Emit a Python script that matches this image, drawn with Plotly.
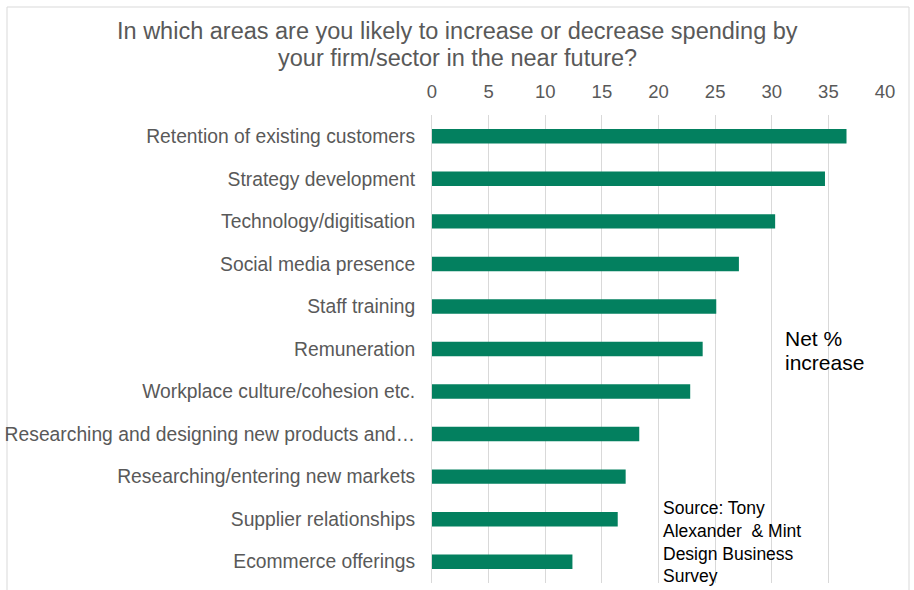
import plotly.graph_objects as go

# Survey areas, top to bottom
categories = [
    "Retention of existing customers",
    "Strategy development",
    "Technology/digitisation",
    "Social media presence",
    "Staff training",
    "Remuneration",
    "Workplace culture/cohesion etc.",
    "Researching and designing new products and…",
    "Researching/entering new markets",
    "Supplier relationships",
    "Ecommerce offerings",
]
# Net % of respondents expecting to increase spending
net_increase = [36.6, 34.7, 30.3, 27.1, 25.1, 23.9, 22.8, 18.3, 17.1, 16.4, 12.4]

x_ticks = [0, 5, 10, 15, 20, 25, 30, 35, 40]

title_lines = [
    "In which areas are you likely to increase or decrease spending by",
    "your firm/sector in the near future?",
]
unit_lines = ["Net %", "increase"]

GREEN = "#03805F"
GREY_TXT = "#595959"
FONT = "Liberation Sans, Arial, sans-serif"

# plot-area geometry in pixels (used to place paper-referenced items)
L, R, T, B = 432, 885, 115, 583
PW, PH = R - L, B - T


def px_x(x):
    return (x - L) / PW


def px_y(y):
    return (B - y) / PH


fig = go.Figure(
    go.Bar(
        y=categories,
        x=net_increase,
        orientation="h",
        marker=dict(color=GREEN, line=dict(width=0)),
        width=0.34,
        hoverinfo="x+y",
    )
)

annotations = []
# two-line title, each line placed on its own baseline row
for line, yc in zip(title_lines, [31, 58]):
    annotations.append(dict(
        text=line, xref="paper", yref="paper",
        x=px_x(457), y=px_y(yc), xanchor="center", yanchor="middle",
        showarrow=False, font=dict(family=FONT, size=23.5, color=GREY_TXT),
    ))
# unit note beside the bars
for line, yc in zip(unit_lines, [338, 362]):
    annotations.append(dict(
        text=line, xref="paper", yref="paper",
        x=px_x(783), y=px_y(yc), xanchor="left", yanchor="middle",
        showarrow=False, font=dict(family=FONT, size=21, color="#000000"),
    ))
annotations.append(dict(
    text="Source: Tony<br>Alexander  & Mint<br>Design Business<br>Survey",
    xref="paper", yref="paper",
    x=px_x(661), y=px_y(496), xanchor="left", yanchor="top", align="left",
    showarrow=False, font=dict(family=FONT, size=17.5, color="#000000"),
))

fig.update_layout(
    width=914,
    height=590,
    margin=dict(l=L, r=914 - R, t=T, b=590 - B, autoexpand=False),
    paper_bgcolor="white",
    plot_bgcolor="white",
    showlegend=False,
    font=dict(family=FONT, color=GREY_TXT, size=18),
    xaxis=dict(
        side="top",
        range=[0, 40],
        tickvals=x_ticks,
        showgrid=True,
        gridcolor="#D9D9D9",
        gridwidth=1,
        zeroline=False,
        showline=False,
        ticks="",
        ticklabelstandoff=12,
        tickfont=dict(size=18.5, color=GREY_TXT),
        automargin=False,
        fixedrange=True,
    ),
    yaxis=dict(
        autorange="reversed",
        showgrid=False,
        zeroline=False,
        showline=True,
        linecolor="#D9D9D9",
        linewidth=1,
        ticks="",
        ticklabelstandoff=12,
        tickfont=dict(size=19.3, color=GREY_TXT),
        automargin=False,
        fixedrange=True,
    ),
    shapes=[
        dict(
            type="rect",
            xref="paper",
            yref="paper",
            x0=px_x(7),
            x1=px_x(909),
            y0=px_y(640),
            y1=px_y(7),
            line=dict(color="#D9D9D9", width=1),
            fillcolor="rgba(0,0,0,0)",
            layer="below",
        )
    ],
    annotations=annotations,
)

fig.write_html("out.html")
